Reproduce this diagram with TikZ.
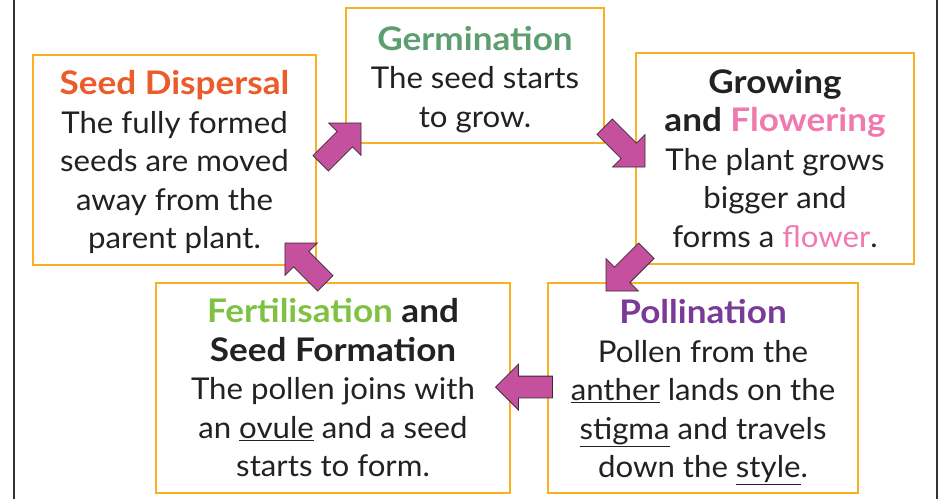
\documentclass[tikz,border=0pt]{standalone}
\usepackage{fontspec}
\setmainfont{Lato}[FakeStretch=1.04]
\newfontfamily\headfam{Lato}[FakeStretch=1.08]
\newcommand{\hd}{\headfam\bfseries\fontsize{32.5}{38.5}\selectfont}
\usetikzlibrary{shapes.arrows}
\definecolor{boxor}{HTML}{F9B122}
\definecolor{txtc}{HTML}{222222}
\definecolor{dispc}{HTML}{EC5B2A}
\definecolor{germc}{HTML}{5C9E70}
\definecolor{flowc}{HTML}{F07AB0}
\definecolor{pollc}{HTML}{7A3A97}
\definecolor{fertc}{HTML}{7FC243}
\definecolor{arrfill}{HTML}{C4509E}
\definecolor{arrline}{HTML}{3A2A35}
\definecolor{framec}{HTML}{333333}
\begin{document}
\begin{tikzpicture}[x=1pt,y=-1pt,
  box/.style={draw=boxor, line width=2.2pt, fill=white, inner sep=0pt},
  txt/.style={align=center, inner sep=0pt, font=\fontsize{30}{38.5}\selectfont, text=txtc},
  arr/.style={single arrow, draw=arrline, fill=arrfill, line width=0.8pt,
    minimum height=57pt, inner sep=10.5pt, single arrow head extend=12pt,
    single arrow tip angle=90},
  frame/.style={draw=framec, line width=2.5pt}]
\useasboundingbox (0,0) rectangle (941,499);
\draw[frame] (14,0) -- (14,499);
\draw[frame] (937,0) -- (937,499);
\node[box, minimum width=283pt, minimum height=210pt] (disp) at (174.5,160) {};
\node[box, minimum width=258pt, minimum height=135pt] (germ) at (475,75.5) {};
\node[box, minimum width=278pt, minimum height=211pt] (grow) at (775,158.5) {};
\node[box, minimum width=354pt, minimum height=210pt] (fert) at (333,388) {};
\node[box, minimum width=310pt, minimum height=210pt] (poll) at (703,388) {};
\node[txt] (dispt) at ([yshift=-2pt]disp.center)
  {{\hd\color{dispc}Seed Dispersal}\\The fully formed\\seeds are moved\\away from the\\parent plant.};
\node[txt] (germt) at ([yshift=-4pt]germ.center)
  {{\hd\color{germc}Germination}\\The seed starts\\to grow.};
\node[txt] (growt) at (grow.center)
  {{\hd Growing}\\{\hd and \color{flowc}Flowering}\\The plant grows\\bigger and\\forms a {\color{flowc}flower}.};
\node[txt] (fertt) at (fert.center)
  {{\hd{\color{fertc}Fertilisation} and}\\{\hd Seed Formation}\\The pollen joins with\\an \underline{ovule} and a seed\\starts to form.};
\node[txt] (pollt) at ([yshift=-4pt]poll.center)
  {{\hd\color{pollc}Pollination}\\Pollen from the\\\underline{anther} lands on the\\\underline{stigma} and travels\\down the \underline{style}.};
\node[arr, rotate=45] (a1) at (337,147) {};
\node[arr, rotate=-45] (a2) at (621,143) {};
\node[arr, rotate=-135] (a3) at (630,267) {};
\node[arr, rotate=180] (a4) at (529.5,387) {};
\node[arr, rotate=135] (a5) at (309,267) {};
\end{tikzpicture}
\end{document}
